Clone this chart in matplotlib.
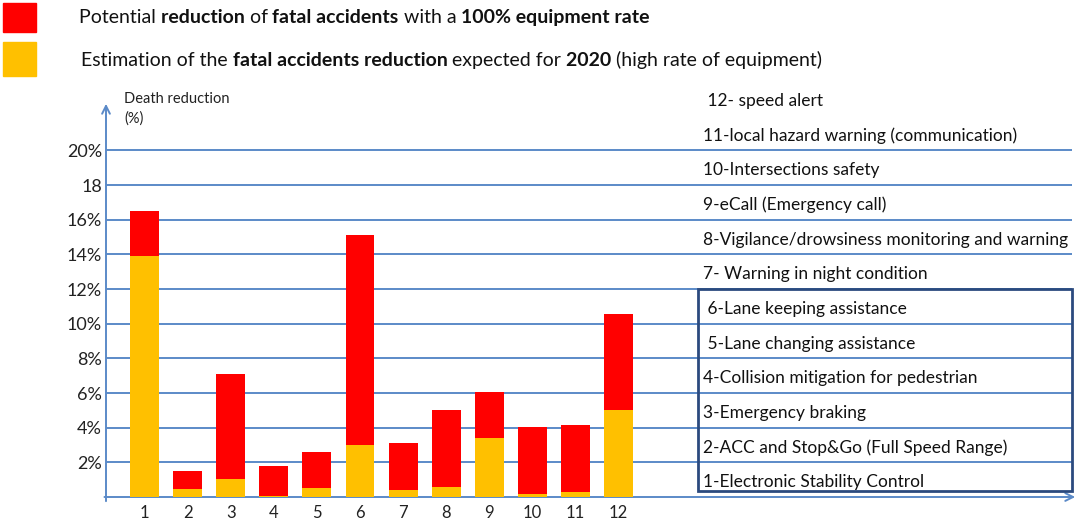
import matplotlib.pyplot as plt
from matplotlib.patches import Rectangle

plt.rcParams['font.family'] = ['Lato', 'DejaVu Sans']

# data (% death reduction)
systems = [1, 2, 3, 4, 5, 6, 7, 8, 9, 10, 11, 12]
potential = [16.5, 1.5, 7.1, 1.8, 2.6, 15.1, 3.1, 5.0, 6.05, 4.05, 4.15, 10.55]
expected_2020 = [13.9, 0.45, 1.05, 0.05, 0.5, 3.0, 0.4, 0.55, 3.4, 0.15, 0.3, 5.0]
system_names = [
    "1-Electronic Stability Control",
    "2-ACC and Stop&Go (Full Speed Range)",
    "3-Emergency braking",
    "4-Collision mitigation for pedestrian",
    " 5-Lane changing assistance",
    " 6-Lane keeping assistance",
    "7- Warning in night condition",
    "8-Vigilance/drowsiness monitoring and warning",
    "9-eCall (Emergency call)",
    "10-Intersections safety",
    "11-local hazard warning (communication)",
    " 12- speed alert",
]
ytick_vals = [2, 4, 6, 8, 10, 12, 14, 16, 18, 20]
ytick_labels = ['2%', '4%', '6%', '8%', '10%', '12%', '14%', '16%', '18', '20%']
legend1 = [("Potential ", False), ("reduction ", True), ("of ", False),
           ("fatal accidents ", True), ("with a ", False), ("100% equipment rate", True)]
legend2 = [("Estimation of the ", False), ("fatal accidents reduction ", True),
           ("expected for ", False), ("2020 ", True), ("(high rate of equipment)", False)]

RED = '#FF0000'
YELLOW = '#FFC000'
GRID = '#5B8AC8'
BOX = '#2B4A7E'
INK = '#111111'

W, H = 1084, 525
fig = plt.figure(figsize=(W / 100, H / 100), dpi=100)

# axes placed in pixels: y axis at x=106, baseline at y=497
left, right, bottom, top = 106, 1079, 497, 95
ax = fig.add_axes([left / W, (H - bottom) / H, (right - left) / W, (bottom - top) / H])
px_per_x = 43.1
px_per_y = 17.33
x0 = 1 - (144.5 - left) / px_per_x
ax.set_xlim(x0, x0 + (right - left) / px_per_x)
ax.set_ylim(0, (bottom - top) / px_per_y)
for s in ax.spines.values():
    s.set_visible(False)

xmax_grid = 1 + (1072 - 144.5) / px_per_x
ax.hlines(ytick_vals, x0, xmax_grid, color=GRID, lw=1.4, zorder=1)

# axes with arrows
ax.annotate('', xy=(x0, 22.85), xytext=(x0, -0.4),
            arrowprops=dict(arrowstyle='->', color=GRID, lw=1.4, mutation_scale=14))
ax.annotate('', xy=(x0 + (1078 - left) / px_per_x, 0), xytext=(x0 - 0.1, 0),
            arrowprops=dict(arrowstyle='->', color=GRID, lw=1.4, mutation_scale=14))

ax.bar(systems, potential, width=0.67, color=RED, zorder=2)
ax.bar(systems, expected_2020, width=0.67, color=YELLOW, zorder=3)

ax.set_yticks(ytick_vals)
ax.set_yticklabels(ytick_labels, fontsize=13, color='#222222')
ax.set_xticks(systems)
ax.set_xticklabels([str(s) for s in systems], fontsize=12, color='#222222')
ax.tick_params(length=0, pad=3)
ax.tick_params(axis='x', pad=6)

ax.text(x0 + 0.42, 22.95, "Death reduction", fontsize=10.5, va='center', color='#222222')
ax.text(x0 + 0.42, 21.85, "(%)", fontsize=10.5, va='center', color='#222222')

# system names on the right
for k, name in enumerate(system_names, start=1):
    ax.text(13.95, 2 * k - 1.15, name, fontsize=12.5, va='center', color=INK)

bx0 = 1 + (698 - 144.5) / px_per_x
ax.add_patch(Rectangle((bx0, 0.36), xmax_grid - bx0, 12.0 - 0.36, fill=False,
                       edgecolor=BOX, lw=2.0, zorder=4, clip_on=False))

# legend squares at the top
fig.patches.append(Rectangle((3 / W, 1 - 32 / H), 33 / W, 29 / H,
                             transform=fig.transFigure, color=RED, figure=fig))
fig.patches.append(Rectangle((3 / W, 1 - 76 / H), 33 / W, 34 / H,
                             transform=fig.transFigure, color=YELLOW, figure=fig))

renderer = fig.canvas.get_renderer()


def rich(x, y, parts, size=14):
    # place normal/bold pieces one after another, measuring each piece
    for s, b in parts:
        t = fig.text(x / W, 1 - y / H, s, fontsize=size,
                     fontweight='bold' if b else 'normal', va='baseline', color=INK)
        x += t.get_window_extent(renderer).width


rich(79, 23, legend1)
rich(81, 66, legend2)

fig.savefig('out.png', dpi=100)
